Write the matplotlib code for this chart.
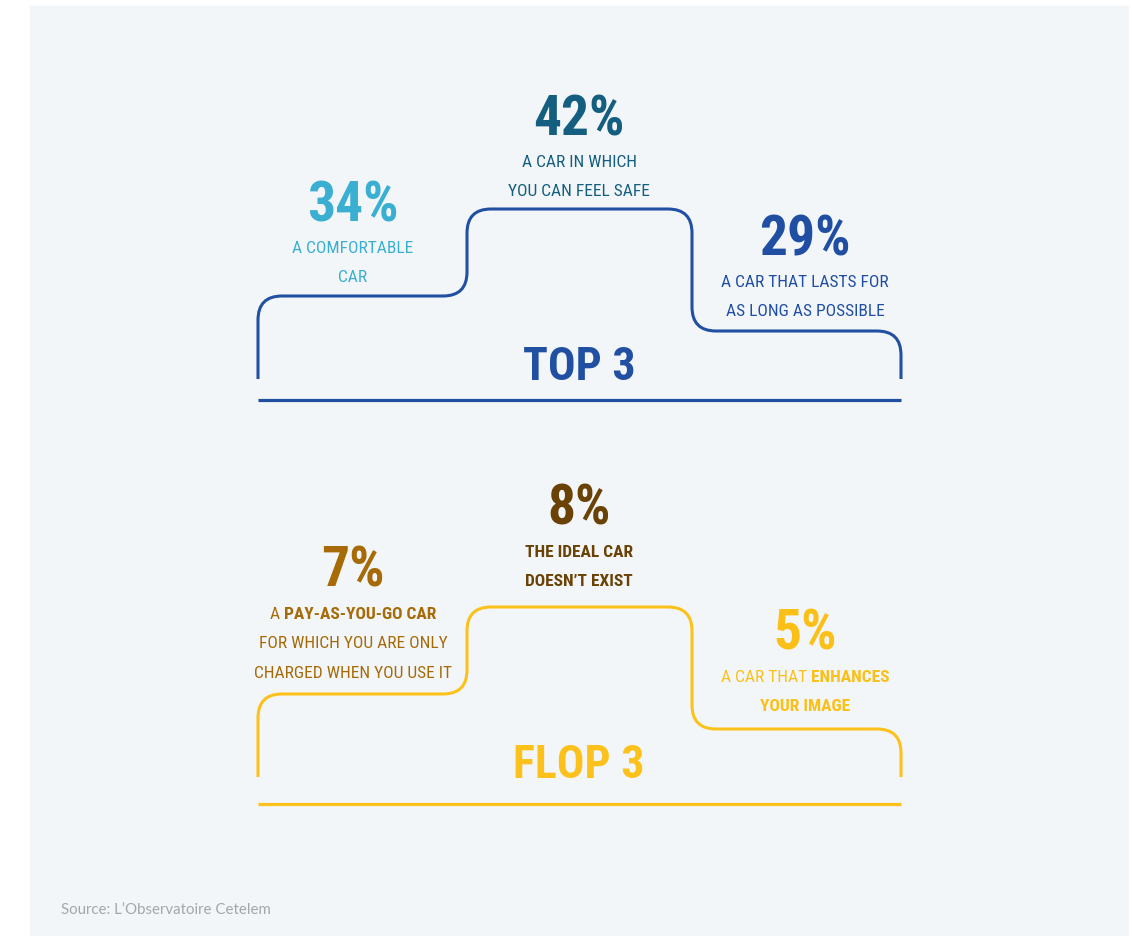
import matplotlib
matplotlib.use("Agg")
import matplotlib.pyplot as plt
import numpy as np
from matplotlib.path import Path
from matplotlib.patches import PathPatch, Rectangle

# data
top_values = [34, 42, 29]
top_ranks = [2, 1, 3]
top_labels = [
    [[("A COMFORTABLE", False)], [("CAR", False)]],
    [[("A CAR IN WHICH", False)], [("YOU CAN FEEL SAFE", False)]],
    [[("A CAR THAT LASTS FOR", False)], [("AS LONG AS POSSIBLE", False)]],
]
top_colors = ["#3aafd2", "#145e7f", "#1f4ea3"]

flop_values = [7, 8, 5]
flop_ranks = [2, 1, 3]
flop_labels = [
    [[("A ", False), ("PAY-AS-YOU-GO CAR", True)],
     [("FOR WHICH YOU ARE ONLY", False)],
     [("CHARGED WHEN YOU USE IT", False)]],
    [[("THE IDEAL CAR", True)], [("DOESN\u2019T EXIST", True)]],
    [[("A CAR THAT ", False), ("ENHANCES", True)], [("YOUR IMAGE", True)]],
]
flop_colors = ["#a66a06", "#6a4205", "#fbc018"]

COND = ["Roboto Condensed", "Liberation Sans Narrow", "DejaVu Sans"]
plt.rcParams["font.family"] = COND

fig = plt.figure(figsize=(11.34, 9.37), dpi=100)
ax = fig.add_axes([0, 0, 1, 1])
ax.set_xlim(0, 1134)
ax.set_ylim(937, 0)
ax.axis("off")
ax.add_patch(Rectangle((30, 7), 1098, 930, color="#f3f6f9", zorder=0))

renderer = fig.canvas.get_renderer()


def rounded(points, r=24):
    pts = [np.array(p, float) for p in points]
    verts, codes = [pts[0]], [Path.MOVETO]
    for i in range(1, len(pts) - 1):
        p0, p1, p2 = pts[i - 1], pts[i], pts[i + 1]
        d1 = (p1 - p0) / np.linalg.norm(p1 - p0)
        d2 = (p2 - p1) / np.linalg.norm(p2 - p1)
        verts += [p1 - d1 * r, p1, p1 + d2 * r]
        codes += [Path.LINETO, Path.CURVE3, Path.CURVE3]
    verts.append(pts[-1])
    codes.append(Path.LINETO)
    return Path(verts, codes)


def line_text(x, y, segs, color, size):
    # draw a line of mixed weight text, centred on x
    objs = []
    for s, b in segs:
        t = ax.text(0, y, s, fontsize=size, color=color, va="baseline",
                    ha="left", fontweight="bold" if b else "normal")
        objs.append(t)
    widths = [t.get_window_extent(renderer).width for t in objs]
    x0 = x - sum(widths) / 2
    for t, w in zip(objs, widths):
        t.set_x(x0)
        x0 += w


def podium(values, ranks, labels, colors, line_color, title, base, step_y,
           pct_y, end_y):
    xs = [258, 467, 692, 901]
    cx = [353, 579, 805]
    ys = [step_y[r] for r in ranks]
    pts = [(xs[0], end_y), (xs[0], ys[0]), (xs[1], ys[0]), (xs[1], ys[1]),
           (xs[2], ys[1]), (xs[2], ys[2]), (xs[3], ys[2]), (xs[3], end_y)]
    ax.add_patch(PathPatch(rounded(pts), fill=False, ec=line_color, lw=2.2,
                           capstyle="butt", joinstyle="round"))
    ax.plot([xs[0], xs[3]], [base, base], color=line_color, lw=2.3,
            solid_capstyle="butt")
    ax.text(579, end_y, title, fontsize=33, fontweight="bold",
            color=line_color, ha="center", va="baseline")
    for i, v in enumerate(values):
        py = pct_y[ranks[i]]
        ax.text(cx[i], py, f"{v}%", fontsize=40, fontweight="bold",
                color=colors[i], ha="center", va="baseline")
        for j, segs in enumerate(labels[i]):
            line_text(cx[i], py + 32 + j * 29.5, segs, colors[i], 12.5)


podium(top_values, top_ranks, top_labels, top_colors, "#2150a2", "TOP 3",
       401, {1: 210, 2: 297, 3: 332}, {1: 135, 2: 221, 3: 255}, 380)
podium(flop_values, flop_ranks, flop_labels, flop_colors, "#fcc21b",
       "FLOP 3", 805, {1: 608, 2: 695, 3: 730}, {1: 525, 2: 587, 3: 650},
       778)

ax.text(61, 914, "Source: L\u2019Observatoire Cetelem", fontsize=10.8,
        family=["Lato", "DejaVu Sans"], color="#a3a7ab", va="baseline")

fig.savefig("out.png", dpi=100, facecolor="white")
